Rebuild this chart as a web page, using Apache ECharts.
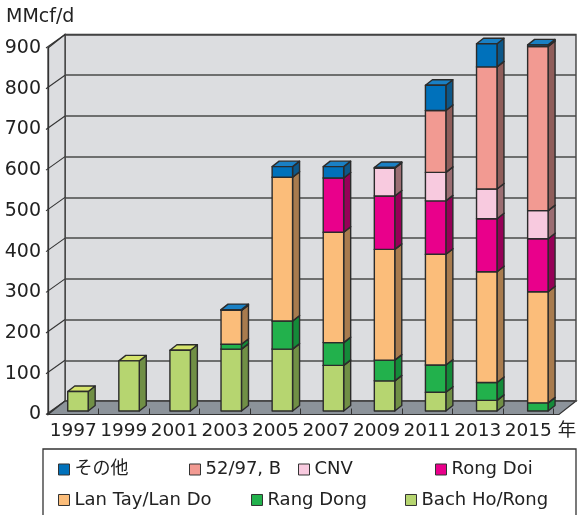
<!DOCTYPE html>
<html><head><meta charset="utf-8">
<script src="https://cdn.jsdelivr.net/npm/echarts@6/dist/echarts.min.js"></script>
<style>html,body{margin:0;padding:0;background:#fff}#c{width:579px;height:515px}</style>
</head><body><div id="c"></div>
<script>
const categories = ['1997','1999','2001','2003','2005','2007','2009','2011','2013','2015'];
const yTicks = [0,100,200,300,400,500,600,700,800,900];
const bachHo   = [48,123,149,152,152,112,74,46,26,0];
const rangDong = [0,0,0,12,69,56,51,67,44,20];
const lanTay   = [0,0,0,83,353,271,272,272,272,273];
const rongDoi  = [0,0,0,0,0,133,131,131,130,130];
const cnv      = [0,0,0,0,0,0,68,70,73,69];
const b5297    = [0,0,0,0,0,0,0,152,300,403];
const other    = [0,0,0,2,26,28,2,62,57,4];

const FONT = "'DejaVu Sans','Noto Sans CJK JP',sans-serif";
const layers = [
  {name:'Bach Ho/Rong',  data:bachHo,  front:'#b6d570', side:'#708f45', top:'#d6e46c'},
  {name:'Rang Dong',     data:rangDong,front:'#22b14c', side:'#148a39', top:'#3cc060'},
  {name:'Lan Tay/Lan Do',data:lanTay,  front:'#fbbd7a', side:'#a87b4e', top:'#fcca90'},
  {name:'Rong Doi',      data:rongDoi, front:'#e9008b', side:'#960057', top:'#ee3a9e'},
  {name:'CNV',           data:cnv,     front:'#f8cadf', side:'#9b6d72', top:'#f9d6e6'},
  {name:'52/97, B',      data:b5297,   front:'#f29a92', side:'#8f5d5a', top:'#f4aaa2'},
  {name:'その他',         data:other,   front:'#0071bb', side:'#0d5788', top:'#1a80c4'}
];
const DX = 7, DY = 5.5, STROKE = '#2b2b2b';

const base = categories.map(()=>0);
const barSeries = layers.map((L, li) => {
  const d = L.data.map((v, i) => { const lo = base[i]; base[i] += v; return [i, lo, lo + v]; });
  return {
    type:'custom', name:L.name, xAxisIndex:2, yAxisIndex:2, z:5,
    itemStyle:{color:L.front, borderColor:'#333', borderWidth:1},
    data:d,
    renderItem:(params, api) => {
      const cat = api.value(0), lo = api.value(1), hi = api.value(2);
      if (!(hi > lo)) return null;
      const p0 = api.coord([cat, lo]), p1 = api.coord([cat, hi]);
      const w = api.size([1,0])[0] * 0.40;
      const x0 = p0[0] - w/2, x1 = p0[0] + w/2, yb = p0[1], yt = p1[1];
      const st = {stroke:STROKE, lineWidth:1.4, lineJoin:'round'};
      return {type:'group', children:[
        {type:'polygon', z2:li*10+1, shape:{points:[[x1,yb],[x1+DX,yb-DY],[x1+DX,yt-DY],[x1,yt]]}, style:Object.assign({fill:L.side}, st)},
        {type:'polygon', z2:li*10+2, shape:{points:[[x0,yt],[x0+DX,yt-DY],[x1+DX,yt-DY],[x1,yt]]}, style:Object.assign({fill:L.top}, st)},
        {type:'rect', z2:li*10+3, shape:{x:x0, y:yt, width:w, height:yb-yt}, style:Object.assign({fill:L.front}, st)}
      ]};
    }
  };
});

const tickSeries = {
  type:'custom', xAxisIndex:0, yAxisIndex:0, z:3, silent:true,
  data: yTicks.map(v => [0, v]),
  renderItem:(params, api) => {
    const p = api.coord([0, api.value(1)]);
    const x = params.coordSys.x;
    return {type:'line', shape:{x1:x-2, y1:p[1], x2:x+17, y2:p[1]-13.5}, style:{stroke:'#333', lineWidth:1.1}};
  }
};

const legendPos = [
  ['その他', 58, 460.5], ['52/97, B', 189, 460.5], ['CNV', 298, 460.5], ['Rong Doi', 435, 460.5],
  ['Lan Tay/Lan Do', 58, 491], ['Rang Dong', 251, 491], ['Bach Ho/Rong', 405, 491]
];
const legends = legendPos.map(([n, x, y]) => ({
  data:[n], left:x, top:y, padding:0, itemWidth:11, itemHeight:11, icon:'rect', selectedMode:false,
  itemStyle:{borderColor:'#333', borderWidth:1},
  textStyle:{fontFamily:FONT, fontSize:18, color:'#222'}
}));

const chart = echarts.init(document.getElementById('c'), null, {renderer:'canvas'});
chart.setOption({
  animation:false,
  title:{text:'MMcf/d', left:1, top:3, textStyle:{fontFamily:FONT, fontSize:19, fontWeight:'normal', color:'#222'}},
  graphic:[
    {type:'polygon', z:-1, shape:{points:[[48,48],[65,34.5],[65,401],[48,414.5]]}, style:{fill:'#dcdde0', stroke:'#333', lineWidth:1.2}},
    {type:'polygon', z:-1, shape:{points:[[48,414.5],[65,401],[576,401],[559,414.5]]}, style:{fill:'#8c939a', stroke:'#333', lineWidth:1.2}},
    {type:'rect', z:-1, shape:{x:43, y:449, width:533, height:100}, style:{fill:'none', stroke:'#333', lineWidth:1.3}}
  ],
  legend:legends,
  grid:[
    {left:48, right:20, top:48, bottom:100.5},
    {left:65, right:3, top:34.5, bottom:114, show:true, backgroundColor:'#dcdde0', borderColor:'#333', borderWidth:1.3, z:-2},
    {left:52.4, right:15.6, top:44.5, bottom:104}
  ],
  xAxis:[
    {type:'category', gridIndex:0, data:categories, boundaryGap:true,
     axisLine:{show:true, lineStyle:{color:'#333', width:1.2}},
     axisTick:{show:true, inside:true, length:6, lineStyle:{color:'#333', width:1}},
     axisLabel:{fontFamily:FONT, fontSize:18.5, color:'#222', margin:7, interval:0},
     name:'年', nameLocation:'end', nameGap:4,
     nameTextStyle:{fontFamily:FONT, fontSize:18.5, color:'#222', verticalAlign:'top', padding:[7,0,0,0]}},
    {type:'category', gridIndex:1, data:categories, show:false},
    {type:'category', gridIndex:2, data:categories, show:false}
  ],
  yAxis:[
    {type:'value', gridIndex:0, min:0, max:900, interval:100,
     axisLine:{show:true, lineStyle:{color:'#333', width:1.3}}, axisTick:{show:false},
     splitLine:{show:false},
     axisLabel:{fontFamily:FONT, fontSize:19, color:'#222', margin:7}},
    {type:'value', gridIndex:1, min:0, max:900, interval:100,
     axisLine:{show:false}, axisTick:{show:false}, axisLabel:{show:false},
     splitLine:{show:true, lineStyle:{color:'#4a4a4a', width:1.5}}},
    {type:'value', gridIndex:2, min:0, max:900, interval:100, show:false}
  ],
  series:[tickSeries].concat(barSeries)
});
</script>
</body></html>
